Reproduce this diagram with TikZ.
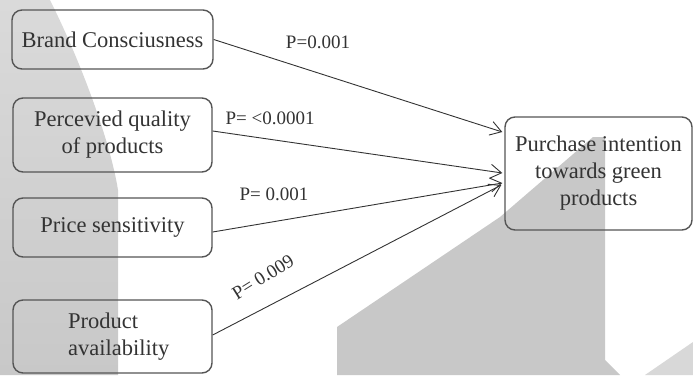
\documentclass[tikz,border=0pt]{standalone}
\usepackage{fontspec}
\setmainfont{Liberation Serif}
\usetikzlibrary{arrows.meta,calc}
\definecolor{wm}{HTML}{C8C8C8}
\definecolor{wmtop}{HTML}{DADADA}
\definecolor{ink}{HTML}{333333}
\definecolor{boxline}{HTML}{555555}
\tikzset{
  box/.style={draw=boxline, line width=1.4pt, rounded corners=10pt, inner sep=0pt,
    align=center, font=\fontsize{22.5}{27}\selectfont, text=ink},
  plain/.style={inner sep=0pt, font=\fontsize{22.5}{27}\selectfont, text=ink, align=left},
  lbl/.style={inner sep=0pt, font=\fontsize{19}{22}\selectfont, text=ink},
  link/.style={draw=ink, line width=0.9pt, -{Straight Barb[length=11pt,width=14pt,line width=0.9pt]}}
}
\begin{document}
\begin{tikzpicture}[x=1pt,y=-1pt]
\useasboundingbox (0,0) rectangle (693,375);
% watermark
\shade[top color=wmtop, bottom color=wm, shading=axis]
  (0,0) -- (50,0) .. controls (80,60) and (110,140) .. (118,190) -- (118,375) -- (0,375) -- cycle;
\fill[wm] (337,375) -- (337,327) -- (500,217) -- (593,137) -- (605,137) -- (605,360) -- (620,375) -- cycle;
\fill[wm!70] (645,375) -- (693,342) -- (693,375) -- cycle;
% boxes
\node[box, minimum width=201pt, minimum height=59pt] (bc) at (112.5,39.5) {Brand Consciusness};
\node[box, minimum width=199pt, minimum height=74pt] (pq) at (112.5,135) {Percevied quality\\of products};
\node[box, minimum width=199pt, minimum height=59pt] (ps) at (112.5,227.5) {Price sensitivity};
\node[box, minimum width=199pt, minimum height=73pt] (pa) at (112.5,336.5) {};
\node[plain, anchor=west] (patext) at (68,336.5) {Product\\availability};
\node[box, minimum width=187pt, minimum height=113pt] (pi) at (598.5,173.5) {Purchase intention\\towards green\\products};
% connectors
\draw[link] (bc.east) -- ($(pi.west)+(-2,-41.5)$);
\draw[link] ($(pq.east)+(0,-4)$) -- ($(pi.west)+(-2,-0.5)$);
\draw[link] ($(ps.east)+(0,4.5)$) -- ($(pi.west)+(-2,9.5)$);
\draw[link] ($(pa.east)+(0,-1.5)$) -- ($(pi.west)+(-3,11.5)$);
% labels
\node[lbl] (l1) at (318,42) {P=0.001};
\node[lbl] (l2) at (270,118) {P= <0.0001};
\node[lbl] (l3) at (274,194) {P= 0.001};
\node[lbl, rotate=32] (l4) at (263,277) {P= 0.009};
\end{tikzpicture}
\end{document}
